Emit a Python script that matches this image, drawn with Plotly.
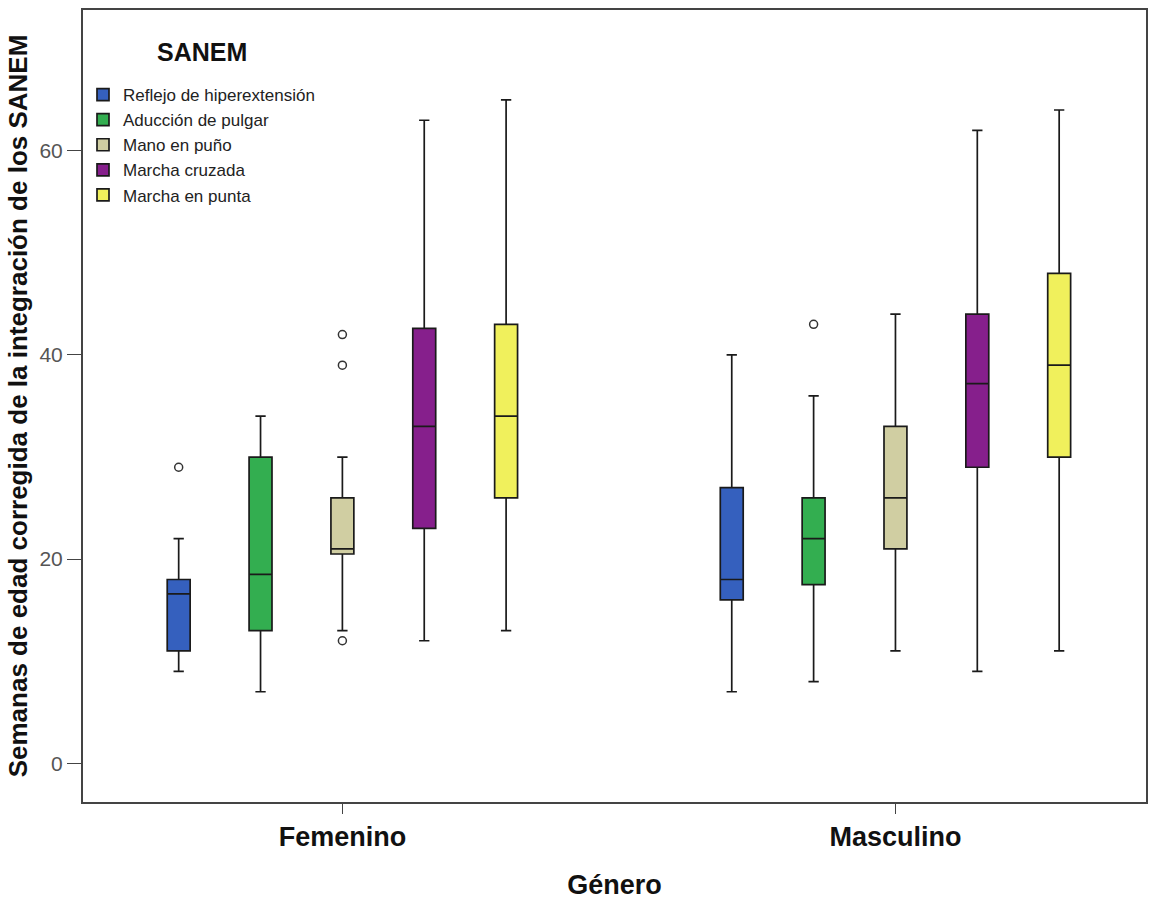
import plotly.graph_objects as go

# Grupos del eje x
generos = ["Femenino", "Masculino"]

# Indicadores SANEM y colores de relleno
sanem = ["Reflejo de hiperextensión", "Aducción de pulgar", "Mano en puño",
         "Marcha cruzada", "Marcha en punta"]
colores = ["#3560BE", "#33AE50", "#D0CEA2", "#861F8C", "#F0F05C"]

# Estadísticos de cada caja: [Femenino, Masculino]
minimo = [[9, 7], [7, 8], [13, 11], [12, 9], [13, 11]]
q1 = [[11, 16], [13, 17.5], [20.5, 21], [23, 29], [26, 30]]
mediana = [[16.6, 18], [18.5, 22], [21, 26], [33, 37.2], [34, 39]]
q3 = [[18, 27], [30, 26], [26, 33], [42.6, 44], [43, 48]]
maximo = [[22, 40], [34, 36], [30, 44], [63, 62], [65, 64]]

# Valores atípicos por caja
atipicos = [[[29], []], [[], [43]], [[42, 39, 12], []], [[], []], [[], []]]

fig = go.Figure()
for i, nombre in enumerate(sanem):
    # las cajas con puntos van primero dentro de cada traza
    orden = sorted(range(len(generos)), key=lambda j: len(atipicos[i][j]) == 0)
    sel = lambda arr: [arr[i][j] for j in orden]
    kw = {}
    if any(len(a) for a in atipicos[i]):
        kw = dict(y=sel(atipicos), boxpoints="outliers")
    else:
        kw = dict(boxpoints=False)
    fig.add_trace(go.Box(
        name=nombre,
        x=[generos[j] for j in orden],
        q1=sel(q1), median=sel(mediana), q3=sel(q3),
        lowerfence=sel(minimo), upperfence=sel(maximo),
        fillcolor=colores[i],
        line=dict(color="#1a1a1a", width=1.7),
        marker=dict(symbol="circle-open", size=8, color="#333333",
                    line=dict(width=1.5)),
        whiskerwidth=0.45,
        jitter=0, pointpos=0,
        **kw,
    ))

fig.add_annotation(
    text="<b>SANEM</b>", xref="paper", yref="paper",
    x=(155 - 83) / 1065, y=1 - (52 - 10) / 792,
    xanchor="left", yanchor="middle", showarrow=False,
    font=dict(size=25, color="#111111"),
)

fig.update_layout(
    width=1151, height=901,
    margin=dict(l=83, r=3, t=10, b=99),
    paper_bgcolor="white", plot_bgcolor="white",
    boxmode="group", boxgap=0.26, boxgroupgap=0.72,
    font=dict(family="Liberation Sans, Arial, sans-serif", color="#222222"),
    showlegend=True,
    legend=dict(
        x=0.0, y=1 - (77 - 10) / 792, xanchor="left", yanchor="top",
        bgcolor="rgba(255,255,255,0)",
        font=dict(size=17, color="#222222"),
        tracegroupgap=0, itemwidth=30,
    ),
    xaxis=dict(
        type="category", categoryorder="array", categoryarray=generos,
        range=[-0.469, 1.453],
        showline=True, linecolor="#444444", linewidth=2, mirror=True,
        ticks="outside", ticklen=10, tickcolor="#444444",
        tickfont=dict(size=27, color="#111111", weight="bold"),
        title=dict(text="<b>Género</b>", font=dict(size=27, color="#111111"),
                   standoff=24),
        showgrid=False, zeroline=False,
    ),
    yaxis=dict(
        range=[-3.8, 73.8], tickvals=[0, 20, 40, 60],
        showline=True, linecolor="#444444", linewidth=2, mirror=True,
        ticks="outside", ticklen=14, tickcolor="#444444",
        tickfont=dict(size=21, color="#555555"),
        title=dict(text="<b>Semanas de edad corregida de la integración de los SANEM</b>",
                   font=dict(size=26, color="#111111"), standoff=4),
        showgrid=False, zeroline=False,
    ),
)

fig.write_html("out.html")
